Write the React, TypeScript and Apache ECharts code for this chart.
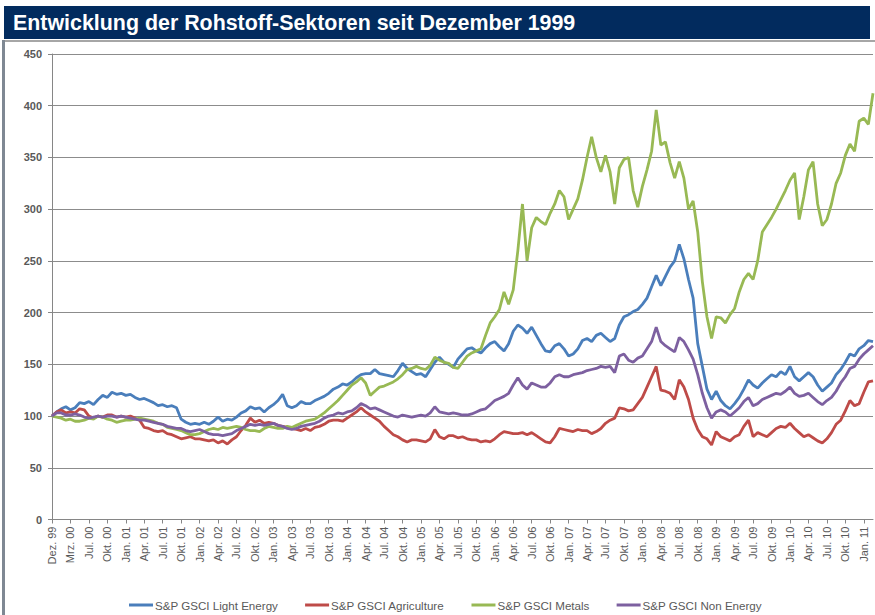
import React, { useEffect, useRef } from "react";
import * as echarts from "echarts";

const quarterLabels = [
  "Dez. 99", "Mrz. 00", "Jul. 00", "Okt. 00",
  "Jan. 01", "Apr. 01", "Jul. 01", "Okt. 01",
  "Jan. 02", "Apr. 02", "Jul. 02", "Okt. 02",
  "Jan. 03", "Apr. 03", "Jul. 03", "Okt. 03",
  "Jan. 04", "Apr. 04", "Jul. 04", "Okt. 04",
  "Jan. 05", "Apr. 05", "Jul. 05", "Okt. 05",
  "Jan. 06", "Apr. 06", "Jul. 06", "Okt. 06",
  "Jan. 07", "Apr. 07", "Jul. 07", "Okt. 07",
  "Jan. 08", "Apr. 08", "Jul. 08", "Okt. 08",
  "Jan. 09", "Apr. 09", "Jul. 09", "Okt. 09",
  "Jan. 10", "Apr. 10", "Jul. 10", "Okt. 10",
  "Jan. 11",
];
const pointsPerQuarter = 4;

const lightEnergy = [
  100, 104, 107, 109, 106, 108, 113, 112, 114, 111, 116, 120, 118, 123, 121, 122,
  120, 121, 118, 116, 117, 115, 113, 110, 111, 109, 110, 108, 97, 94, 92, 93,
  92, 94, 92, 95, 99, 95, 97, 96, 99, 103, 105, 109, 107, 108, 104, 108,
  111, 115, 121, 110, 108, 110, 114, 112, 112, 115, 117, 119, 122, 126, 128, 131,
  130, 133, 137, 140, 141, 141, 145, 141, 140, 139, 138, 144, 151, 146, 143, 140,
  141, 138, 145, 152, 157, 152, 150, 147, 155, 160, 165, 166, 163, 161, 166, 170,
  172, 167, 163, 170, 182, 188, 185, 180, 186, 178, 170, 163, 162, 168, 170, 165,
  158, 160, 165, 173, 175, 172, 178, 180, 176, 172, 175, 188, 196, 198, 201, 203,
  208, 214, 225, 236, 226, 235, 244, 250, 266, 252, 232, 214, 170, 148, 126, 116,
  124, 115, 110, 107, 112, 118, 126, 135, 130, 127, 132, 136, 140, 138, 143, 140,
  148, 138, 134, 138, 142, 138, 130, 124, 128, 132, 140, 145, 152, 160, 158, 165,
  168, 173, 172,
];

const agriculture = [
  100, 104, 106, 103, 104, 103, 107, 106, 100, 98, 100, 99, 101, 101, 99, 100,
  99, 100, 98, 96, 89, 88, 86, 85, 86, 83, 82, 80, 78, 79, 80, 78,
  78, 77, 76, 77, 74, 76, 73, 77, 80, 86, 91, 98, 94, 96, 93, 94,
  93, 91, 90, 89, 88, 87, 86, 88, 86, 89, 90, 92, 95, 96, 96, 95,
  98, 101, 104, 108, 104, 101, 98, 95, 90, 86, 82, 80, 77, 75, 77, 77,
  76, 75, 78, 87, 80, 78, 81, 81, 79, 80, 78, 77, 77, 75, 76, 75,
  78, 82, 85, 84, 83, 83, 84, 82, 84, 81, 78, 75, 74, 80, 88, 87,
  86, 85, 87, 86, 86, 83, 85, 88, 93, 96, 98, 108, 107, 105, 106, 112,
  118, 128, 138, 148, 125, 124, 122, 116, 135, 128, 116, 98, 87, 80, 78, 72,
  85, 80, 78, 76, 80, 82, 90, 96, 80, 84, 82, 80, 84, 88, 90, 89,
  93, 88, 84, 80, 82, 79, 76, 74, 78, 84, 92, 96, 105, 115, 110, 112,
  123, 133, 134,
];

const metals = [
  100, 99, 98, 96, 97, 95, 95, 96, 98, 97, 100, 99, 97, 96, 94, 95,
  96, 96, 97, 98, 97, 96, 95, 93, 92, 89, 88, 87, 86, 84, 82, 82,
  83, 85, 87, 88, 87, 89, 88, 89, 90, 89, 87, 86, 86, 85, 88, 90,
  89, 88, 88, 90, 89, 91, 93, 95, 96, 97, 100, 103, 107, 111, 115, 120,
  125, 130, 133, 137, 132, 120, 124, 128, 129, 131, 133, 136, 140, 145, 146, 148,
  146, 145, 149, 157, 154, 152, 151, 147, 146, 152, 158, 161, 163, 165, 178, 190,
  196, 203, 220, 208, 222, 260, 305, 250, 282, 292, 288, 285, 296, 305, 318, 312,
  290, 300, 310, 328, 350, 370, 350, 336, 352, 336, 305, 340, 348, 350, 318, 302,
  322, 338, 356, 396, 362, 365, 345, 330, 346, 330, 300, 308, 278, 230, 196, 175,
  196, 195, 190, 198, 204, 220, 232, 238, 232, 250, 278, 285, 292, 300, 309, 318,
  328, 335, 290, 312, 338, 346, 305, 284, 290, 305, 325, 335, 352, 363, 356, 385,
  388, 382, 412,
];

const nonEnergy = [
  100, 103, 103, 101, 101, 102, 101, 99, 98, 99, 100, 99, 100, 100, 99, 100,
  99, 98, 97, 96, 96, 95, 94, 93, 92, 90, 89, 88, 88, 86, 85, 86,
  87, 85, 83, 82, 82, 81, 82, 83, 86, 88, 90, 92, 91, 92, 91, 92,
  93, 91, 90, 88, 87, 88, 90, 91, 92, 93, 95, 98, 100, 101, 103, 102,
  104, 105, 108, 112, 110, 107, 108, 106, 104, 102, 100, 99, 101, 100, 99, 100,
  101, 100, 103, 109, 104, 103, 102, 103, 102, 101, 101, 102, 104, 106, 107, 111,
  115, 117, 119, 122, 130, 137, 130, 126, 132, 130, 128, 128, 132, 138, 140, 138,
  138, 140, 141, 142, 144, 145, 146, 148, 147, 148, 142, 158, 160, 154, 152, 156,
  158, 165, 172, 186, 172, 168, 165, 162, 176, 172, 164, 155, 140, 122, 108, 98,
  104, 106, 104, 100, 104, 108, 114, 118, 110, 112, 116, 118, 120, 122, 121, 124,
  128, 122, 119, 120, 122, 118, 114, 111, 115, 118, 124, 132, 138, 146, 148, 155,
  160, 164, 168,
];

const seriesDefs = [
  { name: "S&P GSCI Light Energy", data: lightEnergy, color: "#4A7EBB" },
  { name: "S&P GSCI Agriculture", data: agriculture, color: "#BE4B48" },
  { name: "S&P GSCI Metals", data: metals, color: "#98B954" },
  { name: "S&P GSCI Non Energy", data: nonEnergy, color: "#7D60A0" },
];

const FONT = "'Liberation Sans', Arial, sans-serif";

export default function App() {
  const ref = useRef<HTMLDivElement>(null);

  useEffect(() => {
    if (!ref.current) return;
    const chart = echarts.init(ref.current, null, { renderer: "svg" });
    const n = lightEnergy.length;
    const categories: string[] = [];
    for (let i = 0; i < n; i++) {
      categories.push(i % pointsPerQuarter === 0 ? quarterLabels[i / pointsPerQuarter] ?? "" : "");
    }

    chart.setOption({
      animation: false,
      backgroundColor: "#ffffff",
      textStyle: { fontFamily: FONT },
      graphic: [
        { type: "rect", shape: { x: 4, y: 6, width: 866, height: 33 }, style: { fill: "#022B5E" } },
        {
          type: "text",
          x: 13,
          y: 22.5,
          style: {
            text: "Entwicklung der Rohstoff-Sektoren seit Dezember 1999",
            fill: "#ffffff",
            font: `bold 21.4px ${FONT}`,
            verticalAlign: "middle",
          },
        },
        { type: "line", shape: { x1: 3, y1: 41, x2: 875, y2: 41 }, style: { stroke: "#a6a6a6", lineWidth: 2 } },
        { type: "line", shape: { x1: 3.5, y1: 40, x2: 3.5, y2: 615 }, style: { stroke: "#7f8893", lineWidth: 3 } },
      ],
      grid: { left: 52, right: 2, top: 54, bottom: 95.5, containLabel: false },
      legend: {
        left: 124,
        top: 594,
        icon: "rect",
        itemWidth: 24,
        itemHeight: 3,
        itemGap: 27,
        textStyle: { fontSize: 11.6, color: "#595959", fontFamily: FONT, padding: [0, 0, 0, -3] },
        data: seriesDefs.map((s) => s.name),
      },
      xAxis: {
        type: "category",
        data: categories,
        boundaryGap: false,
        axisLine: { lineStyle: { color: "#868686", width: 1 } },
        axisTick: { show: true, interval: pointsPerQuarter - 1, length: 4, lineStyle: { color: "#868686" } },
        axisLabel: {
          interval: pointsPerQuarter - 1,
          rotate: 90,
          fontSize: 11,
          color: "#595959",
          margin: 7,
          fontFamily: FONT,
        },
        splitLine: { show: false },
      },
      yAxis: {
        type: "value",
        min: 0,
        max: 450,
        interval: 50,
        axisLine: { show: true, lineStyle: { color: "#868686", width: 1 } },
        axisTick: { show: true, length: 4, lineStyle: { color: "#868686" } },
        axisLabel: { fontSize: 11, fontWeight: "bold", color: "#595959", margin: 10, fontFamily: FONT },
        splitLine: { lineStyle: { color: "#8c8c8c", width: 1 } },
      },
      series: seriesDefs.map((s) => ({
        name: s.name,
        type: "line",
        data: s.data,
        showSymbol: false,
        symbol: "none",
        lineStyle: { color: s.color, width: 2.8 },
        itemStyle: { color: s.color },
        z: 3,
      })),
    });

    return () => chart.dispose();
  }, []);

  return (
    <div
      ref={ref}
      style={{ position: "absolute", left: 0, top: 0, width: 875, height: 615, background: "#fff" }}
    />
  );
}
